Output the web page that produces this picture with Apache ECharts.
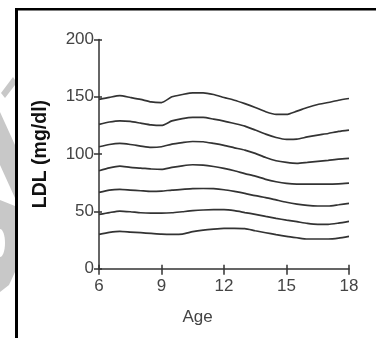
<!DOCTYPE html>
<html>
<head>
<meta charset="utf-8">
<script src="https://cdn.jsdelivr.net/npm/echarts@6/dist/echarts.min.js"></script>
<style>
html,body{margin:0;padding:0;background:#fff;}
#chart{width:376px;height:338px;}
</style>
</head>
<body>
<div id="chart"></div>
<script>
var ages = [6,6.5,7,7.5,8,8.5,9,9.5,10,10.5,11,11.5,12,12.5,13,13.5,14,14.5,15,15.5,16,16.5,17,17.5,18];
var p95 = [147.7,149.5,151,149.4,147.7,145.5,145,150,152,153.5,153.5,152,149.4,147,144,140.7,137,134.6,134.6,137.5,140.7,143.3,145,147,148.5];
var p90 = [126,128,129,128.5,127,125.5,125,129,131,132,132,130.5,128.8,126.7,124.4,121,117.4,114.5,112.8,113,115,116.6,118,119.8,121];
var p75 = [106.4,108.4,109.3,108.4,107,105.8,106.4,108.7,110,111,110.8,109.3,107.6,105.5,103.5,100.6,97,94.2,92.7,91.9,92.7,93.6,94.5,95.6,96.2];
var p50 = [85.5,88,89.5,88.4,87.8,87,86.6,88.4,89.8,90.7,90.4,89.2,87.5,85.5,83,80.8,78,75.9,74.4,73.8,73.8,73.8,73.8,74.1,74.7];
var p25 = [66.6,68.6,69.2,68.6,68,67.4,67.7,68.6,69.2,69.8,70,69.8,68.9,67.4,65.7,63.7,62,60,58,56.4,55.2,54.7,54.7,55.8,57];
var p10 = [47.4,49,50.3,49.7,48.8,48.5,48.5,48.8,49.7,50.6,51.2,51.5,51.5,50.6,49,47.4,45.6,43.9,42.4,41,39.5,38.7,38.7,39.8,41.3];
var p5  = [30,31.7,32.6,32,31.4,30.8,30.2,30,30.2,32.3,33.7,34.6,35.2,35.2,34.9,33.1,31.4,29.7,28.2,27,25.9,25.9,25.9,26.7,28.2];
var xTicks = [6,9,12,15,18];
var yTicks = [0,50,100,150,200];
var seriesList = [p95,p90,p75,p50,p25,p10,p5];

var chart = echarts.init(document.getElementById('chart'), null, {renderer:'canvas'});
var font = 'Liberation Sans, Arial, sans-serif';
var axisColor = '#333';
var option = {
  backgroundColor: '#fff',
  animation: false,
  grid: {left: 99, right: 27, top: 39.5, bottom: 69.3},
  xAxis: [{
    type: 'value', position: 'bottom', min: xTicks[0], max: xTicks[xTicks.length-1], interval: 3,
    name: 'Age', nameLocation: 'middle', nameGap: 40,
    nameTextStyle: {fontFamily: font, fontSize: 17, color: '#444', padding: [0, 53, 0, 0]},
    axisLine: {show: true, lineStyle: {color: axisColor, width: 1.5}},
    axisTick: {show: true, length: 6, lineStyle: {color: axisColor, width: 1.5}},
    axisLabel: {fontFamily: font, fontSize: 17, color: '#444', margin: 9},
    splitLine: {show: false}
  },{
    type: 'value', position: 'bottom', min: xTicks[0], max: xTicks[xTicks.length-1], interval: 3,
    axisLine: {show: false},
    axisTick: {show: true, inside: true, length: 4, lineStyle: {color: axisColor, width: 1.5}},
    axisLabel: {show: false},
    splitLine: {show: false}
  }],
  yAxis: [{
    type: 'value', position: 'left', min: yTicks[0], max: yTicks[yTicks.length-1], interval: 50,
    name: 'LDL (mg/dl)', nameLocation: 'middle', nameGap: 48, nameRotate: 90,
    nameTextStyle: {fontFamily: font, fontSize: 19.5, fontWeight: 'bold', color: '#111'},
    axisLine: {show: true, lineStyle: {color: axisColor, width: 1.5}},
    axisTick: {show: true, length: 5, lineStyle: {color: axisColor, width: 1.5}},
    axisLabel: {fontFamily: font, fontSize: 17, color: '#444', margin: 5},
    splitLine: {show: false}
  },{
    type: 'value', position: 'left', min: yTicks[0], max: yTicks[yTicks.length-1], interval: 50,
    axisLine: {show: false},
    axisTick: {show: true, inside: true, length: 3, lineStyle: {color: axisColor, width: 1.5}},
    axisLabel: {show: false},
    splitLine: {show: false}
  }],
  series: seriesList.map(function(vals){
    return {
      type: 'line', xAxisIndex: 0, yAxisIndex: 0,
      data: ages.map(function(a, i){ return [a, vals[i]]; }),
      symbol: 'none', smooth: 0.2,
      lineStyle: {color: '#333', width: 1.7}
    };
  }),
  graphic: [
    {type: 'polygon', z: 0, shape: {points: [[1,93],[13,77],[15,80],[15,85],[5,98]]}, style: {fill: '#c8c8c8'}},
    {type: 'polygon', z: 0, shape: {points: [[0,112],[15,145],[15,198],[0,165]]}, style: {fill: '#c8c8c8'}},
    {type: 'polygon', z: 0, shape: {points: [[0,200],[15,206],[15,272],[9,285],[0,292]]}, style: {fill: '#c8c8c8'}},
    {type: 'ellipse', z: 1, shape: {cx: 0, cy: 243, rx: 5, ry: 14}, style: {fill: '#fff'}},
    {type: 'rect', z: 5, shape: {x: 15, y: 8, width: 3, height: 330}, style: {fill: '#000'}},
    {type: 'rect', z: 5, shape: {x: 15, y: 8, width: 361, height: 2.5}, style: {fill: '#000'}}
  ]
};
chart.setOption(option);
</script>
</body>
</html>
